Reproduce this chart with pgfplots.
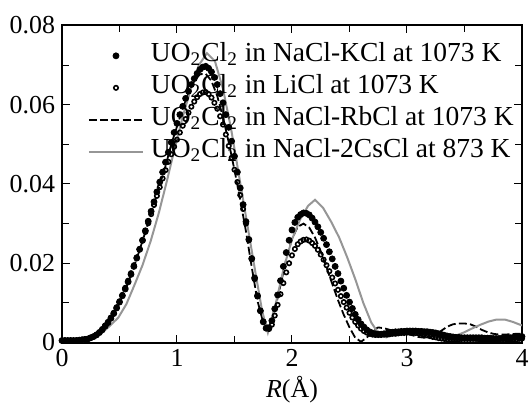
\documentclass[border=0pt]{standalone}
\usepackage{fontspec}
\setmainfont{Liberation Serif}
\usepackage{pgfplots}
\pgfplotsset{compat=1.18}
\definecolor{grayline}{RGB}{150,150,150}

\begin{document}
\begin{tikzpicture}
\begin{axis}[
  at={(0,0)}, anchor=south west,
  width=230bp, height=158.5bp, scale only axis,
  xmin=0, xmax=4, ymin=0, ymax=0.08,
  xtick={0,1,2,3,4}, minor x tick num=1,
  ytick={0,0.02,0.04,0.06,0.08}, minor y tick num=1,
  yticklabels={0,0.02,0.04,0.06,0.08}, scaled y ticks=false,
  tick align=inside, major tick length=4bp, minor tick length=3.5bp,
  every tick/.style={black, line width=0.5bp},
  axis line style={line width=1bp},
  tick label style={font=\fontsize{13}{15}\selectfont},
  /pgf/number format/assume math mode=true,
  xlabel={\textit{R}(Å)},
  xlabel style={font=\fontsize{13}{15}\selectfont, yshift=2bp},
  legend image code/.code={\draw[#1,mark repeat=2,mark phase=2] plot coordinates {(0bp,0bp) (13.5bp,0bp) (27bp,0bp)};},
  legend style={draw=none, fill=none, at={(axis cs:0.226,0.0755)}, anchor=north west,
    inner sep=0pt, outer sep=0pt, row sep=3.5bp,
    nodes={inner sep=0pt, text height=9bp, text depth=3.5bp},
    font=\fontsize{13.8}{16}\selectfont,
    /tikz/every odd column/.append style={column sep=3.5bp},
    /tikz/every even column/.append style={column sep=0bp}},
  legend cell align=left,
]
% UO2Cl2 in NaCl-KCl at 1073 K
\addplot[only marks, mark=*, mark size=1.5bp, black] coordinates {
(0.000,0.0005) (0.025,0.0005) (0.050,0.0005) (0.075,0.0005) (0.100,0.0005) (0.125,0.0005)
(0.150,0.0006) (0.175,0.0007) (0.200,0.0008) (0.225,0.0009) (0.250,0.0012) (0.275,0.0015)
(0.300,0.0019) (0.325,0.0025) (0.350,0.0032) (0.375,0.0041) (0.400,0.0050) (0.425,0.0061)
(0.450,0.0073) (0.475,0.0087) (0.500,0.0102) (0.525,0.0118) (0.550,0.0135) (0.575,0.0153)
(0.600,0.0172) (0.625,0.0192) (0.650,0.0213) (0.675,0.0235) (0.700,0.0258) (0.725,0.0282)
(0.750,0.0306) (0.775,0.0331) (0.800,0.0355) (0.825,0.0380) (0.850,0.0405) (0.875,0.0430)
(0.900,0.0455) (0.925,0.0480) (0.950,0.0505) (0.975,0.0530) (1.000,0.0553) (1.025,0.0575)
(1.050,0.0596) (1.075,0.0616) (1.100,0.0634) (1.125,0.0651) (1.150,0.0666) (1.175,0.0679)
(1.200,0.0689) (1.225,0.0695) (1.250,0.0697) (1.275,0.0692) (1.300,0.0683) (1.325,0.0669)
(1.350,0.0651) (1.375,0.0628) (1.400,0.0605) (1.425,0.0575) (1.450,0.0543) (1.475,0.0508)
(1.500,0.0470) (1.525,0.0430) (1.550,0.0390) (1.575,0.0348) (1.600,0.0305) (1.625,0.0260)
(1.650,0.0212) (1.675,0.0163) (1.700,0.0118) (1.725,0.0080) (1.750,0.0052) (1.775,0.0036)
(1.800,0.0037) (1.825,0.0055) (1.850,0.0085) (1.875,0.0120) (1.900,0.0156) (1.925,0.0192)
(1.950,0.0227) (1.975,0.0258) (2.000,0.0284) (2.025,0.0303) (2.050,0.0316) (2.075,0.0323)
(2.100,0.0327) (2.125,0.0326) (2.150,0.0322) (2.175,0.0314) (2.200,0.0304) (2.225,0.0292)
(2.250,0.0278) (2.275,0.0263) (2.300,0.0247) (2.325,0.0229) (2.350,0.0211) (2.375,0.0192)
(2.400,0.0174) (2.425,0.0155) (2.450,0.0137) (2.475,0.0119) (2.500,0.0102) (2.525,0.0086)
(2.550,0.0071) (2.575,0.0058) (2.600,0.0047) (2.625,0.0039) (2.650,0.0032) (2.675,0.0027)
(2.700,0.0024) (2.725,0.0022) (2.750,0.0021) (2.775,0.0021) (2.800,0.0022) (2.825,0.0023)
(2.850,0.0025) (2.875,0.0026) (2.900,0.0027) (2.925,0.0027) (2.950,0.0028) (2.975,0.0028)
(3.000,0.0029) (3.025,0.0029) (3.050,0.0029) (3.075,0.0029) (3.100,0.0028) (3.125,0.0028)
(3.150,0.0027) (3.175,0.0027) (3.200,0.0026) (3.225,0.0025) (3.250,0.0024) (3.275,0.0022)
(3.300,0.0020) (3.325,0.0018) (3.350,0.0016) (3.375,0.0015) (3.400,0.0014) (3.425,0.0013)
(3.450,0.0013) (3.475,0.0012) (3.500,0.0012) (3.525,0.0012) (3.550,0.0012) (3.575,0.0012)
(3.600,0.0012) (3.625,0.0012) (3.650,0.0012) (3.675,0.0011) (3.700,0.0011) (3.725,0.0011)
(3.750,0.0010) (3.775,0.0010) (3.800,0.0010) (3.825,0.0011) (3.850,0.0011) (3.875,0.0012)
(3.900,0.0012) (3.925,0.0013) (3.950,0.0014) (3.975,0.0014) (4.000,0.0015)};
\addlegendentry{UO\textsubscript{2}Cl\textsubscript{2} in NaCl-KCl at 1073 K}
% UO2Cl2 in LiCl at 1073 K
\addplot[only marks, mark=o, mark size=1.1bp, line width=0.8bp, black, fill=white] coordinates {
(0.000,0.0005) (0.025,0.0005) (0.050,0.0005) (0.075,0.0005) (0.100,0.0005) (0.125,0.0005)
(0.150,0.0006) (0.175,0.0007) (0.200,0.0008) (0.225,0.0009) (0.250,0.0012) (0.275,0.0015)
(0.300,0.0020) (0.325,0.0026) (0.350,0.0034) (0.375,0.0043) (0.400,0.0052) (0.425,0.0063)
(0.450,0.0075) (0.475,0.0089) (0.500,0.0104) (0.525,0.0120) (0.550,0.0138) (0.575,0.0156)
(0.600,0.0175) (0.625,0.0195) (0.650,0.0215) (0.675,0.0236) (0.700,0.0257) (0.725,0.0279)
(0.750,0.0301) (0.775,0.0324) (0.800,0.0347) (0.825,0.0370) (0.850,0.0392) (0.875,0.0414)
(0.900,0.0435) (0.925,0.0456) (0.950,0.0475) (0.975,0.0494) (1.000,0.0512) (1.025,0.0530)
(1.050,0.0547) (1.075,0.0564) (1.100,0.0580) (1.125,0.0595) (1.150,0.0608) (1.175,0.0619)
(1.200,0.0627) (1.225,0.0631) (1.250,0.0632) (1.275,0.0627) (1.300,0.0618) (1.325,0.0605)
(1.350,0.0590) (1.375,0.0571) (1.400,0.0550) (1.425,0.0525) (1.450,0.0496) (1.475,0.0466)
(1.500,0.0436) (1.525,0.0405) (1.550,0.0372) (1.575,0.0337) (1.600,0.0300) (1.625,0.0258)
(1.650,0.0210) (1.675,0.0160) (1.700,0.0116) (1.725,0.0080) (1.750,0.0053) (1.775,0.0037)
(1.800,0.0034) (1.825,0.0045) (1.850,0.0068) (1.875,0.0095) (1.900,0.0122) (1.925,0.0150)
(1.950,0.0177) (1.975,0.0200) (2.000,0.0220) (2.025,0.0236) (2.050,0.0248) (2.075,0.0255)
(2.100,0.0259) (2.125,0.0260) (2.150,0.0257) (2.175,0.0251) (2.200,0.0244) (2.225,0.0234)
(2.250,0.0222) (2.275,0.0209) (2.300,0.0195) (2.325,0.0180) (2.350,0.0164) (2.375,0.0149)
(2.400,0.0133) (2.425,0.0117) (2.450,0.0102) (2.475,0.0088) (2.500,0.0075) (2.525,0.0063)
(2.550,0.0052) (2.575,0.0043) (2.600,0.0035) (2.625,0.0029) (2.650,0.0025) (2.675,0.0022)
(2.700,0.0020) (2.725,0.0019) (2.750,0.0019) (2.775,0.0019) (2.800,0.0020) (2.825,0.0020)
(2.850,0.0021) (2.875,0.0022) (2.900,0.0022) (2.925,0.0023) (2.950,0.0024) (2.975,0.0024)
(3.000,0.0025) (3.025,0.0025) (3.050,0.0025) (3.075,0.0024) (3.100,0.0023) (3.125,0.0022)
(3.150,0.0020) (3.175,0.0018) (3.200,0.0016) (3.225,0.0014) (3.250,0.0013) (3.275,0.0011)
(3.300,0.0010) (3.325,0.0009) (3.350,0.0008) (3.375,0.0008) (3.400,0.0008) (3.425,0.0008)
(3.450,0.0008) (3.475,0.0009) (3.500,0.0009) (3.525,0.0009) (3.550,0.0009) (3.575,0.0009)
(3.600,0.0009) (3.625,0.0008) (3.650,0.0008) (3.675,0.0008) (3.700,0.0007) (3.725,0.0007)
(3.750,0.0006) (3.775,0.0006) (3.800,0.0006) (3.825,0.0006) (3.850,0.0006) (3.875,0.0007)
(3.900,0.0007) (3.925,0.0008) (3.950,0.0008) (3.975,0.0009) (4.000,0.0010)};
\addlegendentry{UO\textsubscript{2}Cl\textsubscript{2} in LiCl at 1073 K}
% UO2Cl2 in NaCl-RbCl at 1073 K
\addplot[black, line width=0.9bp, dash pattern=on 4bp off 1.6bp] coordinates {
(0.00,0.0004) (0.05,0.0004) (0.10,0.0004) (0.15,0.0005) (0.20,0.0007) (0.25,0.0011)
(0.30,0.0018) (0.35,0.0030) (0.40,0.0048) (0.45,0.0072) (0.50,0.0100) (0.55,0.0133)
(0.60,0.0170) (0.65,0.0212) (0.70,0.0256) (0.75,0.0302) (0.80,0.0350) (0.85,0.0398)
(0.90,0.0445) (0.95,0.0500) (1.00,0.0545) (1.05,0.0590) (1.10,0.0630) (1.15,0.0660)
(1.20,0.0677) (1.25,0.0678) (1.30,0.0660) (1.35,0.0622) (1.40,0.0568) (1.45,0.0505)
(1.50,0.0435) (1.55,0.0360) (1.60,0.0280) (1.65,0.0190) (1.70,0.0105) (1.75,0.0050)
(1.80,0.0040) (1.85,0.0080) (1.90,0.0145) (1.95,0.0210) (2.00,0.0262) (2.05,0.0292)
(2.10,0.0300) (2.15,0.0290) (2.20,0.0265) (2.25,0.0230) (2.30,0.0190) (2.35,0.0148)
(2.40,0.0107) (2.45,0.0070) (2.50,0.0038) (2.55,0.0012) (2.60,0.0002) (2.65,0.0012)
(2.70,0.0030) (2.75,0.0038) (2.80,0.0036) (2.85,0.0032) (2.90,0.0028) (2.95,0.0025)
(3.00,0.0022) (3.05,0.0018) (3.10,0.0014) (3.15,0.0012) (3.20,0.0014) (3.25,0.0020)
(3.30,0.0030) (3.35,0.0040) (3.40,0.0046) (3.45,0.0048) (3.50,0.0048) (3.55,0.0046)
(3.60,0.0040) (3.65,0.0032) (3.70,0.0026) (3.75,0.0022) (3.80,0.0020) (3.85,0.0020)
(3.90,0.0021) (3.95,0.0022) (4.00,0.0022)};
\addlegendentry{UO\textsubscript{2}Cl\textsubscript{2} in NaCl-RbCl at 1073 K}
% UO2Cl2 in NaCl-2CsCl at 873 K
\addplot[grayline, line width=1bp] coordinates {
(0.00,-0.0003) (0.07,-0.0003) (0.14,0.0000) (0.21,0.0005) (0.28,0.0012) (0.35,0.0025)
(0.42,0.0043) (0.49,0.0063) (0.56,0.0097) (0.63,0.0145) (0.70,0.0195) (0.77,0.0255)
(0.84,0.0325) (0.91,0.0405) (0.98,0.0490) (1.05,0.0570) (1.12,0.0640) (1.19,0.0700)
(1.26,0.0730) (1.33,0.0710) (1.40,0.0640) (1.47,0.0540) (1.54,0.0420) (1.61,0.0300)
(1.68,0.0180) (1.74,0.0080) (1.79,0.0025) (1.86,0.0100) (1.93,0.0190) (2.00,0.0260)
(2.07,0.0310) (2.14,0.0345) (2.20,0.0360) (2.27,0.0340) (2.34,0.0305) (2.41,0.0265)
(2.48,0.0215) (2.55,0.0160) (2.62,0.0100) (2.69,0.0050) (2.76,0.0020) (2.82,0.0013)
(2.89,0.0020) (2.96,0.0027) (3.03,0.0032) (3.10,0.0034) (3.17,0.0033) (3.24,0.0030)
(3.31,0.0025) (3.38,0.0020) (3.43,0.0018) (3.50,0.0026) (3.57,0.0036) (3.64,0.0045)
(3.71,0.0053) (3.78,0.0058) (3.85,0.0058) (3.92,0.0052) (4.00,0.0043)};
\addlegendentry{UO\textsubscript{2}Cl\textsubscript{2} in NaCl-2CsCl at 873 K}
\end{axis}
\pgfresetboundingbox
\useasboundingbox (-31bp,-31.25bp) rectangle (233.5bp,171.25bp);
\end{tikzpicture}
\end{document}
